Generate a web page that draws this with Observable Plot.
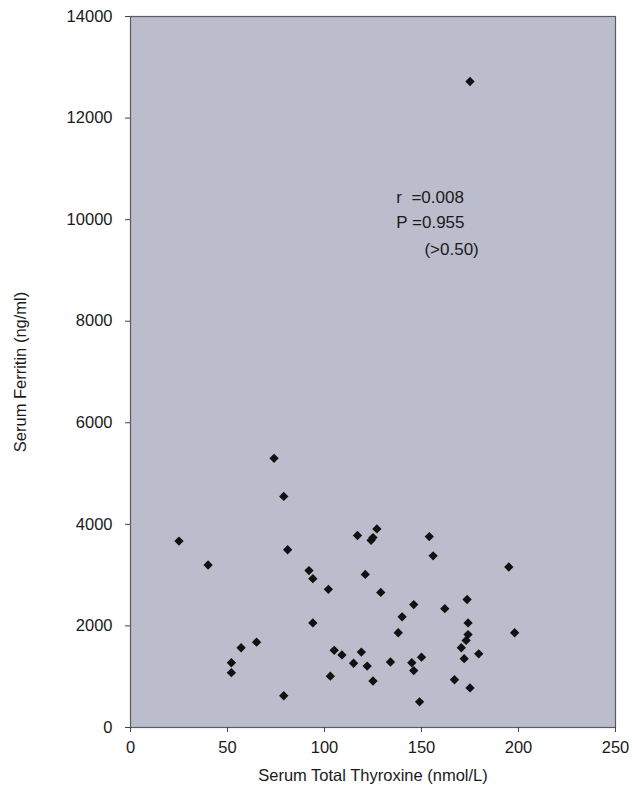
<!DOCTYPE html>
<html>
<head>
<meta charset="utf-8">
<script src="https://cdn.jsdelivr.net/npm/d3@7"></script>
<script src="https://cdn.jsdelivr.net/npm/@observablehq/plot@0.6"></script>
<style>
  html, body { margin: 0; padding: 0; background: #ffffff; }
  #chart { width: 632px; height: 790px; }
</style>
</head>
<body>
<div id="chart"></div>
<script>
// Serum total thyroxine (nmol/L)
const thyroxine = [
  74, 79, 25, 81, 40, 92, 94, 94, 65, 57, 52, 52, 79,
  127, 125, 124, 117, 154, 156, 195, 121, 102, 129, 173.5, 146, 162, 140,
  174, 138, 198, 174, 173, 170.5, 105, 119, 109, 179.5, 150, 172, 115,
  134, 145, 122, 146, 103, 167, 125, 175, 149, 175
];
// Serum ferritin (ng/ml)
const ferritin = [
  5300, 4550, 3670, 3500, 3200, 3090, 2930, 2060, 1680, 1570, 1275, 1080, 625,
  3910, 3740, 3685, 3780, 3760, 3380, 3160, 3015, 2720, 2660, 2520, 2420, 2340, 2180,
  2060, 1865, 1865, 1830, 1715, 1570, 1520, 1485, 1430, 1450, 1385, 1355, 1265,
  1290, 1275, 1210, 1120, 1010, 940, 915, 780, 505, 12720
];
const xTicks = [0, 50, 100, 150, 200, 250];
const yTicks = [0, 2000, 4000, 6000, 8000, 10000, 12000, 14000];
const statLines = ["r  =0.008", "P =0.955", "(>0.50)"];
const statX = [137, 137, 151.5];
const statY = [10440, 9940, 9410];

const points = thyroxine.map((x, i) => ({x, y: ferritin[i]}));
const stats = statLines.map((t, i) => ({t, x: statX[i], y: statY[i]}));

const chart = Plot.plot({
  width: 632,
  height: 790,
  marginLeft: 130,
  marginRight: 17,
  marginTop: 16,
  marginBottom: 63,
  style: {fontFamily: "'Liberation Sans', Arial, sans-serif", fontSize: "16px", color: "#1a1a1a", background: "#ffffff"},
  x: {domain: [0, 250], ticks: xTicks},
  y: {domain: [0, 14000], ticks: yTicks},
  marks: [
    Plot.frame({fill: "#bbbdcc"}),
    Plot.frame({stroke: "#5a5a66", strokeWidth: 1.2}),
    Plot.axisX({ticks: xTicks, tickSize: 5, tickPadding: 9, fontSize: 16.5, stroke: "#444",
      label: "Serum Total Thyroxine (nmol/L)", labelAnchor: "center", labelArrow: "none", labelOffset: 53}),
    Plot.axisY({ticks: yTicks, tickSize: 5, tickPadding: 13, fontSize: 16.5, stroke: "#444", tickFormat: d => String(d),
      label: "Serum Ferritin (ng/ml)", labelAnchor: "center", labelArrow: "none", labelOffset: 116}),
    Plot.dot(points, {x: "x", y: "y", symbol: "diamond2", r: 4.2, fill: "#111", stroke: "none"}),
    Plot.text(stats, {x: "x", y: "y", text: "t", textAnchor: "start", fontSize: 17, fill: "#1a1a1a"})
  ]
});
document.getElementById("chart").appendChild(chart);
</script>
</body>
</html>
